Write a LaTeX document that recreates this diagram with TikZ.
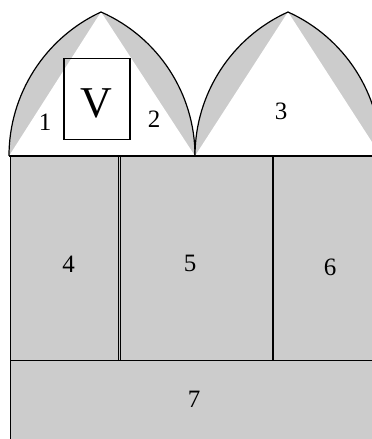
\documentclass[tikz,border=0pt]{standalone}
\usepackage{fontspec}
\setmainfont{Liberation Serif}
\usepackage{xcolor}
\usetikzlibrary{positioning}
\definecolor{panelgray}{gray}{0.8}
\tikzset{
  panel/.style={draw=black, line width=1pt, fill=panelgray},
  archline/.style={draw=black, line width=1.2pt},
  numlabel/.style={font=\fontsize{25}{25}\selectfont, inner sep=0pt},
  vframe/.style={draw=black, line width=1.1pt, minimum width=66pt, minimum height=81pt, inner sep=0pt},
  bigletter/.style={font=\fontsize{44}{44}\selectfont, inner sep=0pt}
}

\begin{document}
\begin{tikzpicture}[x=1pt, y=1pt]
  \useasboundingbox (0,0) rectangle (372,439);
  \clip (0,0) rectangle (372,439);

  % Corner points of the arches
  \coordinate (l1) at (9,283);
  \coordinate (top1) at (101,427);
  \coordinate (mid) at (195,283);
  \coordinate (top2) at (288,427);
  \coordinate (r2) at (381,283);

  % Left arch
  \fill[panelgray] (l1) arc[start angle=180, end angle=114.85, radius=158.7]
    arc[start angle=66.27, end angle=0, radius=157.3] -- cycle;
  \fill[white] (l1) -- (top1) -- (mid) -- cycle;
  \draw[archline] (l1) arc[start angle=180, end angle=114.85, radius=158.7]
    arc[start angle=66.27, end angle=0, radius=157.3];

  % Right arch
  \fill[panelgray] (mid) arc[start angle=180, end angle=114.3, radius=158]
    arc[start angle=65.7, end angle=0, radius=158] -- cycle;
  \fill[white] (mid) -- (top2) -- (r2) -- cycle;
  \draw[archline] (mid) arc[start angle=180, end angle=114.3, radius=158]
    arc[start angle=65.7, end angle=0, radius=158];

  % Panels
  \fill[panelgray] (10,283) rectangle (380,-10);
  \draw[panel] (10,78) rectangle (380,-10);
  \draw[panel] (10,283) rectangle (118.5,78);
  \draw[panel] (120.5,283) rectangle (272.5,78);
  \draw[panel] (273.5,283) rectangle (380,78);
  \draw[archline] (l1) -- (r2);

  % Window
  \node[vframe] (frame) at (97,340.2) {};
  \node[bigletter] (vletter) at ([xshift=-1pt, yshift=-5pt]frame.center) {V};

  % Numbers
  \node[numlabel] (n1) at (45,317) {1};
  \node[numlabel] (n2) at (154,320) {2};
  \node[numlabel] (n3) at (281,328) {3};
  \node[numlabel] (n4) at (68.5,175) {4};
  \node[numlabel] (n5) at (190,176) {5};
  \node[numlabel] (n6) at (330,172) {6};
  \node[numlabel] (n7) at (194,40) {7};
\end{tikzpicture}
\end{document}
